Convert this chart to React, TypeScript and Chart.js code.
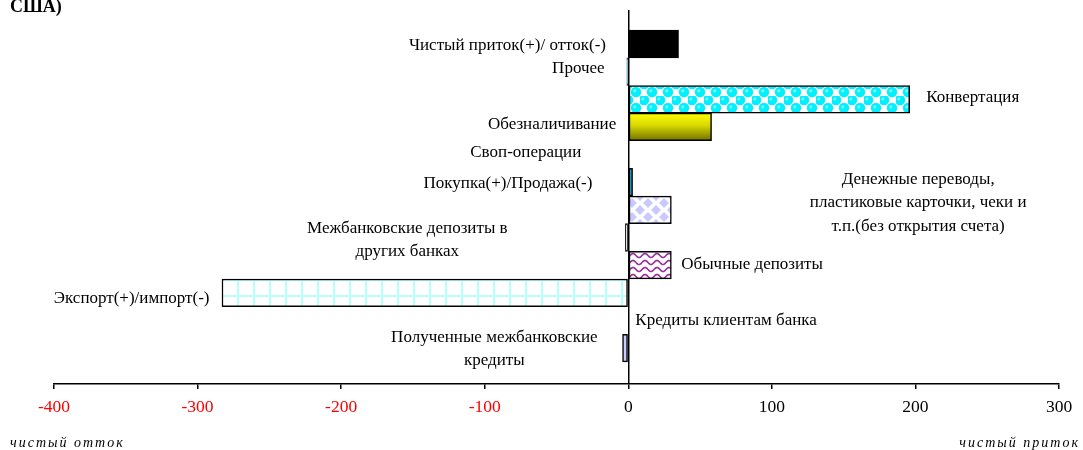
import React, { useEffect, useRef } from 'react';
import { Chart, registerables } from 'chart.js';

Chart.register(...registerables);

// ---------- data ----------
const TITLE_TAIL = 'США)';
const CATEGORIES = [
  'Чистый приток(+)/ отток(-)',
  'Прочее',
  'Конвертация',
  'Обезналичивание',
  'Своп-операции',
  'Покупка(+)/Продажа(-)',
  'Денежные переводы,\nпластиковые карточки, чеки и\nт.п.(без открытия счета)',
  'Межбанковские депозиты в\nдругих банках',
  'Обычные депозиты',
  'Экспорт(+)/импорт(-)',
  'Кредиты клиентам банка',
  'Полученные межбанковские\nкредиты',
];
const VALUES = [35, -1, 196, 58, 0, 3, 30, -2, 30, -283, 0, -4];
const X_TICKS = [-400, -300, -200, -100, 0, 100, 200, 300];
const AXIS_NOTES = ['чистый отток', 'чистый приток'];

// ---------- label layout (style only) ----------
type Align = 'left' | 'right' | 'center';
const LABEL_LAYOUT: { x: number; row: number; align: Align }[] = [
  { x: -15.5, row: 0.07, align: 'right' },
  { x: -16.5, row: 0.87, align: 'right' },
  { x: 207.5, row: 1.95, align: 'left' },
  { x: -8.4, row: 2.93, align: 'right' },
  { x: -71.4, row: 3.94, align: 'center' },
  { x: -25, row: 5.03, align: 'right' },
  { x: 201.9, row: 5.75, align: 'center' },
  { x: -153.9, row: 7.09, align: 'center' },
  { x: 36.9, row: 7.96, align: 'left' },
  { x: -291.7, row: 9.19, align: 'right' },
  { x: 4.9, row: 10.02, align: 'left' },
  { x: -93.3, row: 11.03, align: 'center' },
];

const FONT = '"Liberation Serif", "Times New Roman", serif';

function tile(
  main: CanvasRenderingContext2D,
  w: number,
  h: number,
  draw: (g: CanvasRenderingContext2D) => void
): CanvasPattern | string {
  const c = document.createElement('canvas');
  c.width = w;
  c.height = h;
  const g = c.getContext('2d');
  if (!g) return '#fff';
  draw(g);
  return main.createPattern(c, 'repeat') || '#fff';
}

function makeFills(main: CanvasRenderingContext2D) {
  const bubbles = tile(main, 16, 16, (g) => {
    g.fillStyle = '#ffffff';
    g.fillRect(0, 0, 16, 16);
    const centers = [
      [4, 4],
      [12, 12],
      [-4, 12],
      [12, -4],
      [20, 12],
      [12, 20],
      [-4, -4],
      [20, 20],
      [20, -4],
      [-4, 20],
    ];
    g.fillStyle = '#00f0ff';
    centers.forEach(([x, y]) => {
      g.beginPath();
      g.arc(x, y, 5.2, 0, Math.PI * 2);
      g.fill();
    });
    g.fillStyle = '#7ff8ff';
    centers.forEach(([x, y]) => {
      g.beginPath();
      g.arc(x - 1.2, y - 1.2, 1.6, 0, Math.PI * 2);
      g.fill();
    });
  });
  const diamonds = tile(main, 16, 14, (g) => {
    g.fillStyle = '#ffffff';
    g.fillRect(0, 0, 16, 14);
    g.fillStyle = '#c9c9ff';
    const dia = (cx: number, cy: number) => {
      g.beginPath();
      g.moveTo(cx, cy - 5);
      g.lineTo(cx + 5, cy);
      g.lineTo(cx, cy + 5);
      g.lineTo(cx - 5, cy);
      g.closePath();
      g.fill();
    };
    dia(8, 7);
    dia(0, 0);
    dia(16, 0);
    dia(0, 14);
    dia(16, 14);
  });
  const waves = tile(main, 12, 7, (g) => {
    g.fillStyle = '#ffffff';
    g.fillRect(0, 0, 12, 7);
    g.strokeStyle = '#993399';
    g.lineWidth = 1.7;
    g.beginPath();
    for (let x = -1; x <= 13; x += 0.5) {
      const y = 3.5 + 2 * Math.sin((2 * Math.PI * x) / 12);
      if (x === -1) g.moveTo(x, y);
      else g.lineTo(x, y);
    }
    g.stroke();
  });
  const grid = tile(main, 16, 16, (g) => {
    g.fillStyle = '#ffffff';
    g.fillRect(0, 0, 16, 16);
    g.fillStyle = '#b8ffff';
    g.fillRect(13, 0, 2, 16);
    g.fillRect(0, 7, 16, 2);
  });
  const redDots = tile(main, 6, 6, (g) => {
    g.fillStyle = '#ffffff';
    g.fillRect(0, 0, 6, 6);
    g.fillStyle = '#ff5050';
    g.fillRect(0, 0, 1, 2);
  });
  return { bubbles, diamonds, waves, grid, redDots };
}

export default function App() {
  const ref = useRef<HTMLCanvasElement | null>(null);

  useEffect(() => {
    document.body.style.margin = '0';
    const canvas = ref.current;
    if (!canvas) return;
    const ctx = canvas.getContext('2d');
    if (!ctx) return;
    const f = makeFills(ctx);

    const solidFills: any[] = [
      '#000000',
      '#33ccff',
      f.bubbles,
      null, // gradient
      '#ffffff',
      '#1fb2ea',
      f.diamonds,
      f.redDots,
      f.waves,
      f.grid,
      '#ffffff',
      '#ccccff',
    ];

    const labelsPlugin = {
      id: 'labelsPlugin',
      afterDatasetsDraw(chart: any) {
        const c = chart.ctx as CanvasRenderingContext2D;
        const xs = chart.scales.x;
        const ys = chart.scales.y;
        c.save();
        c.fillStyle = '#000';
        c.font = `17px ${FONT}`;
        c.textBaseline = 'middle';
        const LH = 23.5;
        CATEGORIES.forEach((name, i) => {
          const L = LABEL_LAYOUT[i];
          const lines = name.split('\n');
          const px = xs.getPixelForValue(L.x);
          const cy = ys.getPixelForValue(L.row);
          c.textAlign = L.align;
          lines.forEach((ln, k) => {
            c.fillText(ln, px, cy + (k - (lines.length - 1) / 2) * LH);
          });
        });
        c.restore();
      },
      afterDraw(chart: any) {
        const c = chart.ctx as CanvasRenderingContext2D;
        c.save();
        c.fillStyle = '#000';
        c.font = `bold 18px ${FONT}`;
        c.textAlign = 'left';
        c.textBaseline = 'alphabetic';
        c.fillText(TITLE_TAIL, 10, 12);
        c.font = `italic 14px ${FONT}`;
        (c as any).letterSpacing = '2px';
        c.textBaseline = 'middle';
        c.fillText(AXIS_NOTES[0], 10, 443);
        c.textAlign = 'right';
        c.fillText(AXIS_NOTES[1], 1080, 443);
        c.restore();
      },
    };

    const chart = new Chart(ctx, {
      type: 'bar',
      data: {
        datasets: [
          {
            data: VALUES.map((v, i) => ({ x: v, y: i })) as any,
            backgroundColor: (context: any) => {
              const i = context.dataIndex;
              if (i === 3) {
                const ch = context.chart;
                const ys = ch.scales && ch.scales.y;
                if (!ys || !ch.chartArea) return '#ffff00';
                const cy = ys.getPixelForValue(i);
                const g = ch.ctx.createLinearGradient(0, cy - 14, 0, cy + 14);
                g.addColorStop(0, '#ffff00');
                g.addColorStop(0.45, '#d8d800');
                g.addColorStop(1, '#6e6e00');
                return g;
              }
              return solidFills[i] ?? '#fff';
            },
            borderColor: '#000',
            borderWidth: 1.5,
            borderSkipped: false,
            barThickness: 27.6,
          } as any,
        ],
      },
      options: {
        indexAxis: 'y',
        responsive: false,
        animation: false,
        events: [],
        layout: { padding: { left: 54, right: 24, top: 10, bottom: 26 } },
        plugins: {
          legend: { display: false },
          tooltip: { enabled: false },
          title: { display: false },
        },
        scales: {
          x: {
            type: 'linear',
            position: 'bottom',
            min: X_TICKS[0],
            max: X_TICKS[X_TICKS.length - 1],
            afterBuildTicks: (scale: any) => {
              scale.ticks = X_TICKS.map((v) => ({ value: v }));
            },
            afterFit: (scale: any) => {
              scale.height = 40;
            },
            ticks: {
              color: (c: any) => (c.tick && c.tick.value < 0 ? '#ff0000' : '#000000'),
              font: { family: FONT, size: 17.5 },
              padding: 8,
              maxRotation: 0,
              autoSkip: false,
            },
            grid: {
              color: (c: any) => (c.tick && c.tick.value === 0 ? '#000000' : 'rgba(0,0,0,0)'),
              lineWidth: 1.5,
              tickColor: '#000000',
              tickLength: 5,
              drawTicks: true,
            },
            border: { display: true, color: '#000000', width: 1.5 },
          },
          y: {
            type: 'linear',
            reverse: true,
            offset: false,
            min: -1.23,
            max: 12.3,
            display: false,
          },
        },
      } as any,
      plugins: [labelsPlugin as any],
    });

    return () => {
      chart.destroy();
    };
  }, []);

  return (
    <div style={{ position: 'fixed', left: 0, top: 0, width: 1083, height: 450, background: '#fff' }}>
      <canvas ref={ref} width={1083} height={450} style={{ display: 'block' }} />
    </div>
  );
}
